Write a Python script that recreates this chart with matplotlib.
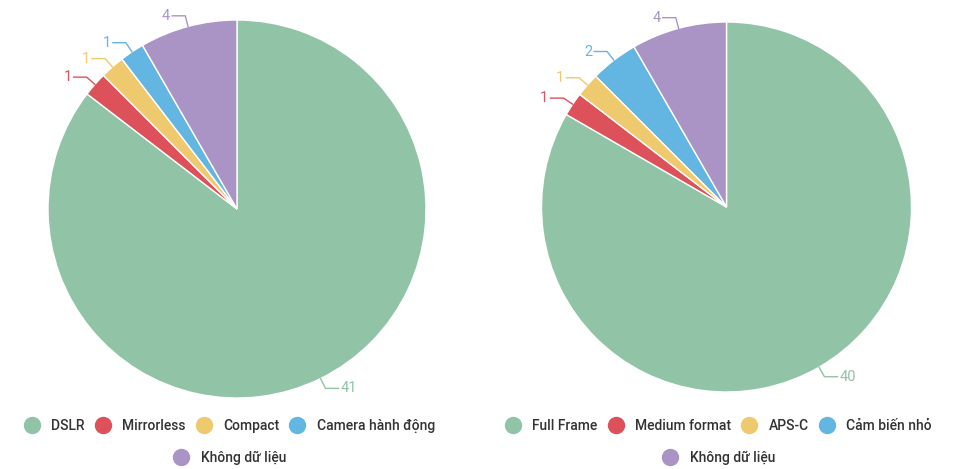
import numpy as np
import matplotlib
matplotlib.use("Agg")
import matplotlib.pyplot as plt
from matplotlib.lines import Line2D

plt.rcParams['font.family'] = ['Roboto', 'DejaVu Sans']

left_labels = ["DSLR", "Mirrorless", "Compact", "Camera hành động", "Không dữ liệu"]
left_values = [41, 1, 1, 1, 4]
right_labels = ["Full Frame", "Medium format", "APS-C", "Cảm biến nhỏ", "Không dữ liệu"]
right_values = [40, 1, 1, 2, 4]
colors = ["#91c3a7", "#dd525a", "#efc96e", "#63b6e2", "#a994c5"]

W, H = 960, 469
fig = plt.figure(figsize=(W / 100, H / 100), dpi=100)


def px_axes(cx, cy, r):
    return fig.add_axes([(cx - r) / W, (H - cy - r) / H, 2 * r / W, 2 * r / H])


def draw_pie(ax, values, r_px):
    wedges, _ = ax.pie(values, colors=colors, startangle=90, counterclock=False,
                       radius=1.0, wedgeprops=dict(edgecolor="white", linewidth=1.0))
    ax.set_xlim(-1, 1)
    ax.set_ylim(-1, 1)
    ax.set_aspect("equal")
    ax.axis("off")
    d1 = 11.0 / r_px
    d2 = 13.0 / r_px
    for w, v, c in zip(wedges, values, colors):
        th = np.deg2rad((w.theta1 + w.theta2) / 2)
        x0, y0 = np.cos(th), np.sin(th)
        x1, y1 = x0 * (1 + d1), y0 * (1 + d1)
        s = 1 if x0 >= 0 else -1
        x2 = x1 + s * d2
        ax.plot([x0, x1, x2], [y0, y1, y1], color=c, lw=1.0, clip_on=False)
        ax.text(x2 + s * 2.0 / r_px, y1, str(v), color=c, fontsize=10.5,
                ha="left" if s > 0 else "right", va="center")
    return wedges


axL = px_axes(237, 209, 189)
draw_pie(axL, left_values, 189)
axR = px_axes(726.5, 207, 185)
draw_pie(axR, right_values, 185)


def handles(labels):
    return [Line2D([0], [0], marker="o", linestyle="none", markersize=11.5,
                   markerfacecolor=c, markeredgecolor=c, label=l)
            for l, c in zip(labels, colors)]


def add_legends(labels, cx):
    h = handles(labels)
    kw = dict(frameon=False, fontsize=10, labelcolor="#333333", handletextpad=0.9,
              columnspacing=0.8, handlelength=1.0, borderaxespad=0, borderpad=0,
              prop=dict(size=10, weight="medium"))
    kw.pop("fontsize")
    l1 = fig.legend(handles=h[:4], ncol=4, loc="center", bbox_to_anchor=(cx / W, 1 - 426 / H), **kw)
    l2 = fig.legend(handles=h[4:], ncol=1, loc="center", bbox_to_anchor=(cx / W, 1 - 458 / H), **kw)
    return l1, l2


add_legends(left_labels, 230)
add_legends(right_labels, 719)

fig.savefig("out.png", dpi=100)
